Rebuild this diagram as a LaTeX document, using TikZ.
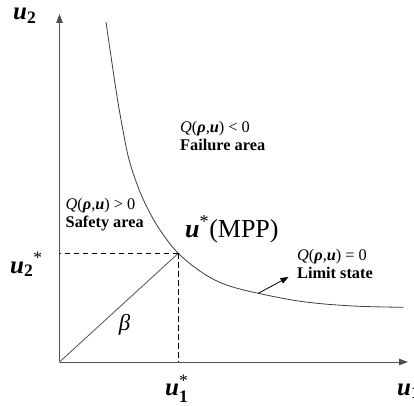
\documentclass[tikz,border=0pt]{standalone}
\usepackage{amsmath}
\usepackage{fontspec}
\setmainfont{Liberation Serif}
\usepackage{tikz}
\usetikzlibrary{arrows.meta,positioning,calc}
\definecolor{axgray}{HTML}{505050}
\definecolor{cvgray}{HTML}{3C3C3C}
\newcommand{\bvar}[1]{\textbf{\textit{#1}}}
\newcommand{\qfun}{\textit{Q}(\bvar{ρ},\bvar{u})}

\begin{document}
\begin{tikzpicture}[x=1pt,y=1pt,font=\fontsize{16.3}{18}\selectfont,
    axis/.style={axgray,line width=0.9pt,-{Triangle[length=9pt,width=6.5pt]}},
    proj/.style={black,line width=1.4pt,dash pattern=on 5.5pt off 3.5pt},
    lbl/.style={anchor=west,align=left,inner sep=0pt},
    big/.style={anchor=base west,inner sep=0pt,font=\fontsize{25}{28}\selectfont}]

      \useasboundingbox (-59.5,-43) rectangle (354.5,362);

      % axes
      \coordinate (O) at (0,0);
      \coordinate (ytip) at (0,348);
      \coordinate (xtip) at (348.5,0);
      \draw[axis] (O) -- (ytip);
      \draw[axis] (O) -- (xtip);

      % limit state curve
      \draw[cvgray,line width=0.8pt] plot[smooth,tension=0.6] coordinates {
        (46.5,340) (56.5,272) (62.2,238.7) (68.8,205.3) (77.2,178.7)
        (87.2,155.3) (100.5,132) (118.8,108.7) (143.8,88.7) (167.2,77)
        (198.8,68.7) (243.8,60.3) (293.8,56) (343.8,54.7)};

      % design point
      \coordinate (mpp) at (118.8,108.7);
      \draw[axgray,line width=0.8pt] (O) -- (mpp);
      \draw[proj] (mpp) -- (mpp -| O);
      \draw[proj] (mpp) -- (mpp |- O);

      % pointer to limit state
      \coordinate (lsbase) at (198.8,68.7);
      \coordinate (lstip) at (229,85);
      \draw[black,line width=0.8pt,-{Triangle[length=8pt,width=6pt]}] (lsbase) -- (lstip);

      % region labels
      \node[lbl] (fail) at (120.5,226) {\qfun\ < 0\\\textbf{Failure area}};
      \node[lbl] (safe) at (6,147) {\qfun\ > 0\\\textbf{Safety area}};
      \node[lbl] (limit) at (237.5,98) {\qfun\ = 0\\\textbf{Limit state}};

      % point and axis labels
      \node[big,font=\fontsize{26}{28}\selectfont] (mpplbl) at (125.5,125) {$\bvar{u}^{\text{*}}$(MPP)};
      \node[big] (u2) at (-46.5,342) {$\bvar{u}_{\textbf{2}}$};
      \node[big] (u2s) at (-49.5,89) {$\bvar{u}_{\textbf{2}}{}^{\text{*}}$};
      \node[big] (u1s) at (105.5,-33.5) {$\bvar{u}_{\textbf{1}}^{\text{*}}$};
      \node[big] (u1) at (337.5,-33) {$\bvar{u}_{\textbf{1}}$};
      \node[font=\fontsize{23}{26}\selectfont\itshape] (beta) at (65,37.5) {β};

    \end{tikzpicture}
\end{document}
